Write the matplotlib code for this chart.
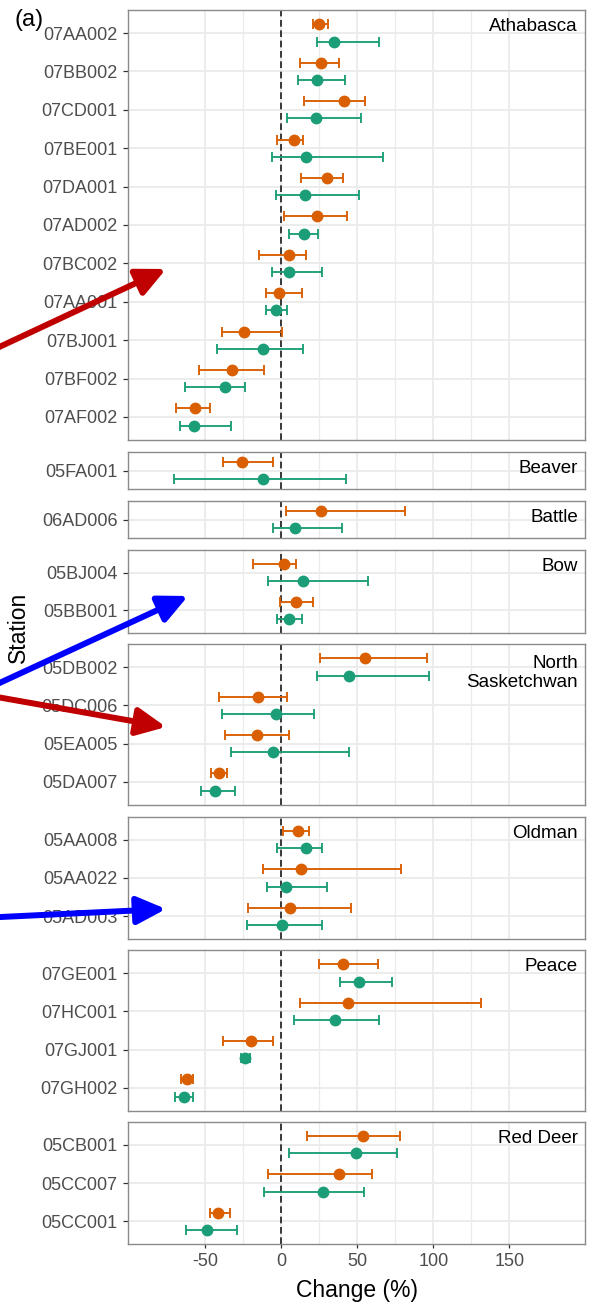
import matplotlib
matplotlib.use("Agg")
import matplotlib.pyplot as plt
import numpy as np
from matplotlib.patches import FancyArrowPatch, ArrowStyle

plt.rcParams['font.family'] = ['Liberation Sans', 'DejaVu Sans']

# ---------------- data ----------------
rivers = ["Athabasca", "Beaver", "Battle", "Bow", "North\nSasketchwan",
          "Oldman", "Peace", "Red Deer"]

stations = ["07AA002", "07BB002", "07CD001", "07BE001", "07DA001", "07AD002",
            "07BC002", "07AA001", "07BJ001", "07BF002", "07AF002",
            "05FA001",
            "06AD006",
            "05BJ004", "05BB001",
            "05DB002", "05DC006", "05EA005", "05DA007",
            "05AA008", "05AA022", "05AD003",
            "07GE001", "07HC001", "07GJ001", "07GH002",
            "05CB001", "05CC007", "05CC001"]

station_river = (["Athabasca"] * 11 + ["Beaver"] + ["Battle"] + ["Bow"] * 2 +
                 ["North\nSasketchwan"] * 4 + ["Oldman"] * 3 + ["Peace"] * 4 +
                 ["Red Deer"] * 3)

# orange series (upper point of each station)
orange_mid = np.array([25.2, 26.1, 41.6, 8.5, 30.0, 23.4, 5.0, -1.1, -24.5, -32.2, -56.5,
                       -25.4,
                       26.3,
                       2.2, 9.6,
                       55.0, -14.9, -15.8, -40.8,
                       11.4, 12.9, 5.9,
                       41.0, 44.0, -19.9, -62.0,
                       53.5, 37.9, -41.2])
orange_lo = np.array([20.8, 12.5, 15.3, -2.8, 12.9, 1.8, -14.2, -9.9, -38.8, -54.1, -68.8,
                      -38.4,
                      3.3,
                      -18.2, -0.7,
                      25.6, -40.8, -36.6, -46.3,
                      1.5, -12.1, -21.5,
                      25.0, 12.1, -37.9, -65.7,
                      17.1, -8.3, -46.7])
orange_hi = np.array([30.6, 37.9, 55.2, 14.7, 40.5, 43.1, 16.2, 13.6, 0.7, -11.4, -46.5,
                      -5.5,
                      81.7,
                      9.9, 20.8,
                      96.0, 3.7, 5.5, -35.3,
                      18.6, 78.7, 46.0,
                      64.0, 131.6, -5.0, -57.6,
                      78.3, 59.8, -33.6])

# green series (lower point of each station)
green_mid = np.array([34.8, 23.4, 22.8, 16.4, 15.5, 15.3, 5.5, -3.3, -11.6, -36.8, -57.2,
                      -11.6,
                      9.0,
                      14.7, 5.0,
                      44.7, -3.3, -5.5, -43.6,
                      16.4, 3.3, 0.7,
                      51.5, 35.7, -23.4, -64.0,
                      48.9, 27.6, -48.9])
green_lo = np.array([23.5, 11.0, 4.2, -6.1, -3.3, 5.0, -6.1, -10.1, -41.8, -63.4, -66.4,
                     -70.5,
                     -5.0,
                     -8.8, -2.8,
                     23.4, -38.8, -32.9, -52.6,
                     -2.4, -9.0, -22.1,
                     38.4, 8.3, -26.5, -69.9,
                     5.5, -11.0, -62.7])
green_hi = np.array([64.6, 41.8, 52.2, 66.8, 51.0, 24.1, 26.9, 4.2, 14.7, -23.7, -33.1,
                     42.5,
                     39.9,
                     57.4, 14.0,
                     97.5, 21.9, 44.5, -30.3,
                     26.9, 30.2, 27.2,
                     72.9, 64.6, -20.4, -57.6,
                     76.1, 54.4, -28.7])

x_major = [-50, 0, 50, 100, 150]
x_minor = [-25, 25, 75, 125]

# ---------------- style / layout ----------------
ORANGE = "#D95F02"
GREEN = "#1B9E77"
W, H = 590, 1307
PT = 72.0 / 100.0  # points per pixel at dpi 100

fig = plt.figure(figsize=(W / 100, H / 100), dpi=100)
fig.patch.set_facecolor("white")

panel_px = [(10, 440), (452, 489), (501, 538), (550, 633), (644, 805),
            (817, 939), (950, 1111), (1122, 1244)]
left_px, right_px = 128, 585

for i, river in enumerate(rivers):
    idx = [k for k in range(len(stations)) if station_river[k] == river]
    n = len(idx)
    top, bot = panel_px[i]
    ax = fig.add_axes([left_px / W, 1 - bot / H, (right_px - left_px) / W, (bot - top) / H])
    y = np.arange(n)

    om, ol, oh = orange_mid[idx], orange_lo[idx], orange_hi[idx]
    gm, gl, gh = green_mid[idx], green_lo[idx], green_hi[idx]

    ax.axvline(0, color="#1a1a1a", ls=(0, (4.0, 2.2)), lw=1.2, zorder=1.5)
    ax.errorbar(om, y - 0.225, xerr=[om - ol, oh - om], fmt="o", color=ORANGE,
                ms=7.5, lw=1.35, capsize=3.4, capthick=1.35, zorder=3)
    ax.errorbar(gm, y + 0.225, xerr=[gm - gl, gh - gm], fmt="o", color=GREEN,
                ms=7.5, lw=1.35, capsize=3.4, capthick=1.35, zorder=3)

    ax.set_xlim(-100.6, 199.7)
    if n == 1:
        ax.set_ylim(0.5, -0.5)
    else:
        ax.set_ylim(n - 1 + 0.6, -0.6)
    ax.set_yticks(y)
    ax.set_yticklabels([stations[k] for k in idx])
    ax.set_xticks(x_major)
    ax.set_xticks(x_minor, minor=True)

    ax.set_axisbelow(True)
    ax.grid(which="major", color="#EBEBEB", lw=1.3)
    ax.grid(which="minor", axis="x", color="#EBEBEB", lw=0.9)
    ax.tick_params(axis="y", which="both", length=3.6, width=0.9, color="#333333",
                   labelsize=13, labelcolor="#4D4D4D", pad=4)
    ax.tick_params(axis="y", which="minor", length=0)
    for sp in ax.spines.values():
        sp.set_color("#8a8a8a")
        sp.set_linewidth(1.0)

    if i == len(rivers) - 1:
        ax.tick_params(axis="x", which="major", length=3.0, width=0.9, color="#333333",
                       labelsize=13, labelcolor="#4D4D4D", pad=3.5)
        ax.tick_params(axis="x", which="minor", length=0)
        ax.set_xticklabels([str(v) for v in x_major])
    else:
        ax.tick_params(axis="x", which="both", length=0, labelbottom=False)

    off = -29 if "\n" in river else -16.5
    ax.annotate(river, xy=(1, 1), xycoords="axes fraction",
                xytext=(-7 * PT, off * PT), textcoords="offset points",
                ha="right", va="center", fontsize=13.5, color="black",
                linespacing=1.1, multialignment="right", zorder=5)

# axis titles and panel tag
fig.text((left_px + right_px) / 2 / W, 1 - 1290 / H, "Change (%)", ha="center",
         va="center", fontsize=16.5, color="black")
fig.text(18 / W, 1 - 627 / H, "Station", ha="center", va="center", rotation=90,
         fontsize=16.5, color="black")
fig.text(15 / W, 1 - 20 / H, "(a)", ha="left", va="center", fontsize=17, color="black")

# overlaid annotation arrows (pixel positions)
arrows = [((-20, 356), (166, 269), "#C00000"),
          ((-20, 692), (188, 596), "#0000FF"),
          ((-20, 694), (166, 727), "#C00000"),
          ((-20, 918), (166, 909), "#0000FF")]
for (x0, y0), (x1, y1), col in arrows:
    p = FancyArrowPatch((x0 / W, 1 - y0 / H), (x1 / W, 1 - y1 / H),
                        transform=fig.transFigure,
                        arrowstyle=ArrowStyle("-|>", head_length=1.3, head_width=0.62),
                        mutation_scale=13.5, lw=4.3, color=col,
                        shrinkA=0, shrinkB=0, zorder=10)
    fig.add_artist(p)

fig.savefig("out.png", dpi=100, facecolor="white")
